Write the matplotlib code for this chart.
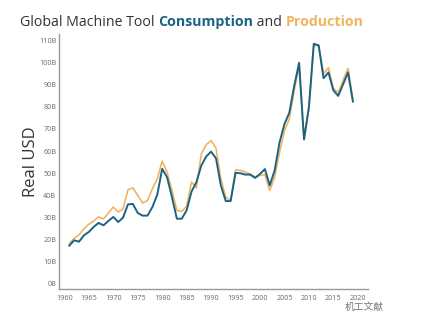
import matplotlib
matplotlib.use("Agg")
import matplotlib.pyplot as plt

years = list(range(1961, 2020))

consumption = [
    17.1, 19.5, 18.9, 21.8, 23.3, 25.6, 27.4, 26.3, 28.3, 30.1,
    27.8, 29.8, 35.8, 36.0, 31.9, 30.7, 30.7, 34.6, 40.2, 51.9,
    48.1, 39.1, 29.3, 29.3, 33.1, 41.6, 45.9, 53.4, 57.5, 59.7,
    56.7, 44.4, 37.3, 37.3, 50.1, 49.9, 49.3, 49.3, 47.8, 49.6,
    51.8, 44.4, 51.2, 63.9, 72.2, 77.4, 89.5, 100.0, 65.2, 79.7,
    108.6, 107.9, 93.0, 95.6, 87.5, 85.0, 90.3, 95.6, 82.4,
]

production = [
    18.0, 20.5, 22.0, 24.8, 26.8, 28.3, 30.1, 29.2, 31.9, 34.6,
    32.3, 33.8, 42.4, 43.3, 39.9, 36.4, 37.6, 42.9, 47.4, 55.4,
    50.4, 42.1, 33.1, 32.6, 34.9, 45.9, 43.3, 58.7, 62.9, 64.7,
    61.4, 47.4, 39.1, 37.6, 51.4, 51.2, 50.4, 49.6, 48.1, 48.9,
    49.3, 42.1, 48.1, 59.4, 69.2, 74.5, 87.3, 98.6, 65.5, 80.0,
    108.0, 107.5, 95.0, 97.8, 88.5, 86.5, 92.1, 97.5, 83.5,
]

x_ticks = list(range(1960, 2021, 5))
y_ticks = list(range(0, 111, 10))
y_tick_labels = [f"{v}B" for v in y_ticks]

blue = "#1b6385"
orange = "#f2b55f"

plt.rcParams["font.family"] = ["Open Sans", "Noto Sans CJK SC", "DejaVu Sans"]

fig = plt.figure(figsize=(4.26, 3.30), dpi=100)
ax = fig.add_axes([0.1385, 0.124, 0.7255, 0.772])

ax.plot(years, production, color=orange, lw=1.2, zorder=2)
ax.plot(years, consumption, color=blue, lw=1.4, zorder=3)

ax.set_xlim(1958.9, 2022.1)
ax.set_ylim(-2.6, 112.9)
ax.set_xticks(x_ticks)
ax.set_xticklabels([str(y) for y in x_ticks])
ax.set_yticks(y_ticks)
ax.set_yticklabels(y_tick_labels)
ax.tick_params(axis="both", length=0, labelsize=5.2, labelcolor="#6a6a6a", pad=2)
ax.tick_params(axis="x", pad=4)

for side in ("top", "right"):
    ax.spines[side].set_visible(False)
for side in ("left", "bottom"):
    ax.spines[side].set_color("#999999")
    ax.spines[side].set_linewidth(1.0)

ax.set_ylabel("Real USD", fontsize=12, color="#333333")
ax.yaxis.set_label_coords(-0.065, 0.5)

# Title with coloured keywords
parts = [
    ("Global Machine Tool ", "#333333", "normal"),
    ("Consumption", blue, "bold"),
    (" and ", "#333333", "normal"),
    ("Production", orange, "bold"),
]
renderer = fig.canvas.get_renderer()
x0 = 20 / 426
for text, color, weight in parts:
    t = fig.text(x0, 1 - 22 / 330, text, fontsize=10.2, color=color,
                 fontweight=weight, va="center", ha="left")
    bb = t.get_window_extent(renderer=renderer)
    x0 += bb.width / fig.bbox.width

fig.text(364 / 426, 1 - 307 / 330, "机工文献", fontsize=7, color="#777777",
         ha="center", va="center")

fig.savefig("out.png", dpi=100, facecolor="white")
